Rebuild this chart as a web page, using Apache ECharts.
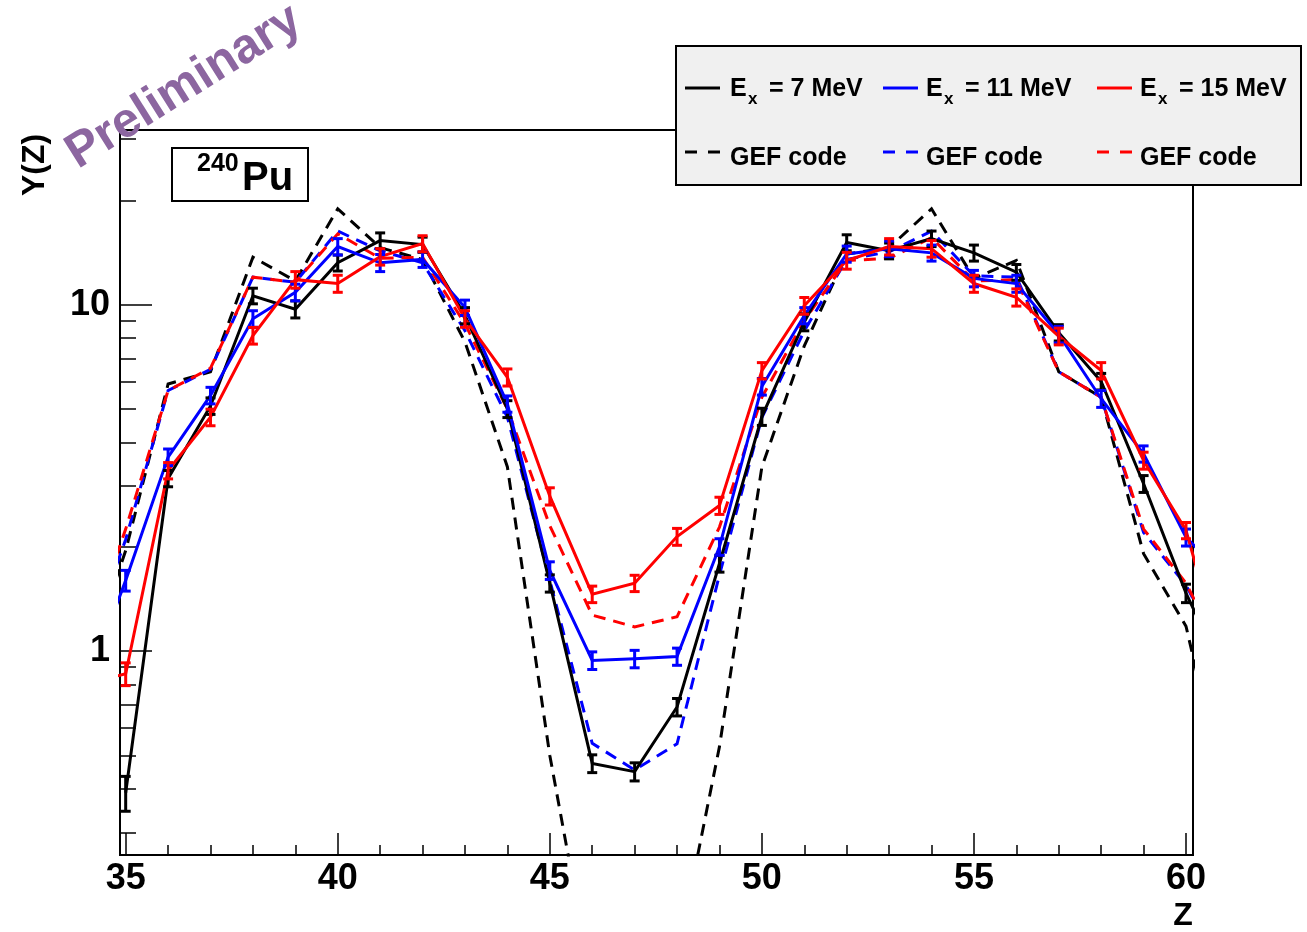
<!DOCTYPE html>
<html><head><meta charset="utf-8">
<script src="https://cdn.jsdelivr.net/npm/echarts@6/dist/echarts.min.js"></script>
<style>html,body{margin:0;padding:0;background:#fff}#c{width:1307px;height:932px}</style>
</head><body><div id="c"></div>
<script>
// ---- data ----
const zValues = [34,35,36,37,38,39,40,41,42,43,44,45,46,47,48,49,50,51,52,53,54,55,56,57,58,59,60,61];
const ex7  = [null,0.39,3.15,5.1,10.6,9.7,13.2,15.3,14.9,9.3,5.0,1.57,0.474,0.449,0.69,1.79,4.75,8.9,15.1,14.3,15.5,14.1,12.4,8.3,6.0,3.04,1.47,0.81];
const ex7Err = [null,0.045,0.17,0.28,0.55,0.55,0.7,0.8,0.75,0.5,0.28,0.09,0.028,0.027,0.04,0.1,0.27,0.5,0.8,0.75,0.8,0.75,0.65,0.45,0.33,0.17,0.09,null];
const ex11 = [0.75,1.6,3.63,5.47,9.1,10.85,14.7,13.2,13.5,9.8,5.17,1.71,0.94,0.95,0.965,2.0,5.8,9.3,14.0,14.5,14.1,11.9,11.5,8.2,5.35,3.71,2.13,1.6];
const ex11Err = [null,0.11,0.2,0.3,0.5,0.6,0.8,0.75,0.7,0.5,0.28,0.1,0.055,0.055,0.055,0.11,0.32,0.5,0.75,0.75,0.75,0.65,0.65,0.45,0.3,0.2,0.12,null];
const ex15 = [0.8,0.86,3.32,4.73,8.14,11.8,11.5,13.75,15.0,9.1,6.17,2.8,1.46,1.57,2.14,2.63,6.45,9.93,13.4,14.7,14.5,11.5,10.5,8.1,6.45,3.55,2.23,0.82];
const ex15Err = [null,0.065,0.18,0.26,0.45,0.65,0.65,0.75,0.8,0.5,0.35,0.16,0.08,0.085,0.12,0.15,0.35,0.55,0.75,0.8,0.8,0.65,0.6,0.45,0.35,0.2,0.12,null];
const gef7  = [0.85,1.95,5.9,6.4,13.7,11.7,18.9,14.6,13.5,7.8,3.4,0.5,0.108,0.07,0.13,0.53,3.4,7.6,14.0,14.6,18.9,11.9,13.4,6.4,5.4,1.91,1.18,0.35];
const gef11 = [0.95,2.1,5.65,6.5,12.0,11.6,16.3,14.3,13.2,8.4,4.73,1.6,0.542,0.454,0.54,1.66,4.72,8.4,13.5,14.2,16.3,12.1,12.0,6.4,5.4,2.2,1.55,0.9];
const gef15 = [1.0,2.25,5.65,6.55,12.0,11.6,16.0,13.6,13.7,8.8,5.0,2.3,1.27,1.175,1.256,2.28,5.4,9.0,13.4,13.6,15.6,11.7,11.8,6.4,5.4,2.25,1.57,0.9];
const zTicks = [35,36,37,38,39,40,41,42,43,44,45,46,47,48,49,50,51,52,53,54,55,56,57,58,59,60];
const zMajorTicks = [35,40,45,50,55,60];
const yMinorTicks = [0.3,0.4,0.5,0.6,0.7,0.8,0.9,2,3,4,5,6,7,8,9,20,30];
const yMajorTicks = [1,10];

// ---- chart ----
const FONT = "'Liberation Sans', Arial, Helvetica, sans-serif";
const chart = echarts.init(document.getElementById('c'), null, {renderer:'canvas'});
const pairs = (ys) => zValues.map((z,i) => [z, ys[i]]);
const errData = (ys, es) => zValues.map((z,i) => (ys[i]==null||es[i]==null) ? null : [z, ys[i]-es[i], ys[i]+es[i]]).filter(d => d);

function errSeries(ys, es, color){
  return {
    type:'custom', xAxisIndex:0, yAxisIndex:0, z:5,
    data: errData(ys, es),
    encode:{x:0, y:[1,2]},
    renderItem: function(params, api){
      const x = api.value(0);
      const p1 = api.coord([x, api.value(1)]);
      const p2 = api.coord([x, api.value(2)]);
      const w = 5;
      const st = {stroke: color, lineWidth: 3};
      return {type:'group', children:[
        {type:'line', shape:{x1:p1[0], y1:p1[1], x2:p2[0], y2:p2[1]}, style:st},
        {type:'line', shape:{x1:p1[0]-w, y1:p1[1], x2:p1[0]+w, y2:p1[1]}, style:st},
        {type:'line', shape:{x1:p2[0]-w, y1:p2[1], x2:p2[0]+w, y2:p2[1]}, style:st}
      ]};
    }
  };
}
function lineSeries(name, ys, color, dashed){
  return {
    name, type:'line', xAxisIndex:0, yAxisIndex:0, data: pairs(ys),
    showSymbol:false, symbol:'none', clip:true, z: dashed ? 2 : 4,
    lineStyle:{color, width:3, type: dashed ? [12,8] : 'solid', cap:'butt', join:'miter'}
  };
}

const axisCommonX = {type:'value', min:34.866, max:60.165, gridIndex:0, position:'bottom', splitLine:{show:false}};
const axisCommonY = {type:'log', logBase:10, min:0.258, max:31.9, gridIndex:0, position:'left', splitLine:{show:false}};

const legendRows = [
  {x:685, tx:730, color:'#000000', label:'= 7 MeV'},
  {x:883, tx:926, color:'#0000ff', label:'= 11 MeV'},
  {x:1097, tx:1140, color:'#ff0000', label:'= 15 MeV'}
];
const legendGraphics = [
  {type:'rect', shape:{x:676, y:46, width:625, height:139}, style:{fill:'#f0f0f0', stroke:'#000', lineWidth:2}, z:100}
];
legendRows.forEach(r => {
  legendGraphics.push({type:'line', shape:{x1:r.x, y1:88, x2:r.x+35, y2:88}, style:{stroke:r.color, lineWidth:3}, z:101});
  legendGraphics.push({type:'line', shape:{x1:r.x, y1:152, x2:r.x+35, y2:152}, style:{stroke:r.color, lineWidth:3, lineDash:[12,11]}, z:101});
  legendGraphics.push({type:'text', x:r.tx, y:89, style:{text:'E', font:'bold 25px '+FONT, fill:'#000', textVerticalAlign:'middle'}, z:101});
  legendGraphics.push({type:'text', x:r.tx+18, y:99, style:{text:'x', font:'bold 17px '+FONT, fill:'#000', textVerticalAlign:'middle'}, z:101});
  legendGraphics.push({type:'text', x:r.tx+39, y:89, style:{text:r.label, font:'bold 25px '+FONT, fill:'#000', textVerticalAlign:'middle'}, z:101});
  legendGraphics.push({type:'text', x:r.tx, y:158, style:{text:'GEF code', font:'bold 25px '+FONT, fill:'#000', textVerticalAlign:'middle'}, z:101});
});

const option = {
  animation:false,
  backgroundColor:'#ffffff',
  grid:{left:120, top:130, width:1073, height:725, show:true, borderColor:'#000', borderWidth:2, backgroundColor:'transparent'},
  xAxis:[
    Object.assign({}, axisCommonX, {
      axisLine:{show:true, onZero:false, lineStyle:{color:'#000', width:2}},
      axisTick:{show:true, inside:true, length:10, customValues:zTicks, lineStyle:{color:'#000', width:1.5}},
      axisLabel:{show:true, customValues:zMajorTicks, color:'#000', fontSize:36, fontWeight:'bold', fontFamily:FONT, margin:6}
    }),
    Object.assign({}, axisCommonX, {
      axisLine:{show:false},
      axisTick:{show:true, inside:true, length:22, customValues:zMajorTicks, lineStyle:{color:'#000', width:1.5}},
      axisLabel:{show:false}
    })
  ],
  yAxis:[
    Object.assign({}, axisCommonY, {
      axisLine:{show:true, onZero:false, lineStyle:{color:'#000', width:2}},
      axisTick:{show:true, inside:true, length:16, customValues:yMinorTicks, lineStyle:{color:'#000', width:1.5}},
      axisLabel:{show:true, customValues:yMajorTicks, color:'#000', fontSize:36, fontWeight:'bold', fontFamily:FONT, margin:10}
    }),
    Object.assign({}, axisCommonY, {
      axisLine:{show:false},
      axisTick:{show:true, inside:true, length:32, customValues:yMajorTicks, lineStyle:{color:'#000', width:1.5}},
      axisLabel:{show:false}
    })
  ],
  series:[
    lineSeries('GEF 7', gef7, '#000000', true),
    lineSeries('GEF 11', gef11, '#0000ff', true),
    lineSeries('GEF 15', gef15, '#ff0000', true),
    lineSeries('Ex 7', ex7, '#000000', false),
    lineSeries('Ex 11', ex11, '#0000ff', false),
    lineSeries('Ex 15', ex15, '#ff0000', false),
    errSeries(ex7, ex7Err, '#000000'),
    errSeries(ex11, ex11Err, '#0000ff'),
    errSeries(ex15, ex15Err, '#ff0000')
  ],
  graphic: legendGraphics.concat([
    {type:'rect', shape:{x:172, y:148, width:136, height:53}, style:{fill:'#fff', stroke:'#000', lineWidth:2}, z:100},
    {type:'text', x:197, y:164, style:{text:'240', font:'bold 25px '+FONT, fill:'#000', textVerticalAlign:'middle'}, z:101},
    {type:'text', x:242, y:179, style:{text:'Pu', font:'bold 40px '+FONT, fill:'#000', textVerticalAlign:'middle'}, z:101},
    {type:'text', x:184, y:87, rotation:0.56, style:{text:'Preliminary', font:'bold 49px '+FONT, fill:'#8c66a0', textAlign:'center', textVerticalAlign:'middle'}, z:101},
    {type:'text', x:35, y:165, rotation:Math.PI/2, style:{text:'Y(Z)', font:'bold 32px '+FONT, fill:'#000', textAlign:'center', textVerticalAlign:'middle'}, z:101},
    {type:'text', x:1183, y:916, style:{text:'Z', font:'bold 32px '+FONT, fill:'#000', textAlign:'center', textVerticalAlign:'middle'}, z:101}
  ])
};
chart.setOption(option);
</script>
</body></html>
